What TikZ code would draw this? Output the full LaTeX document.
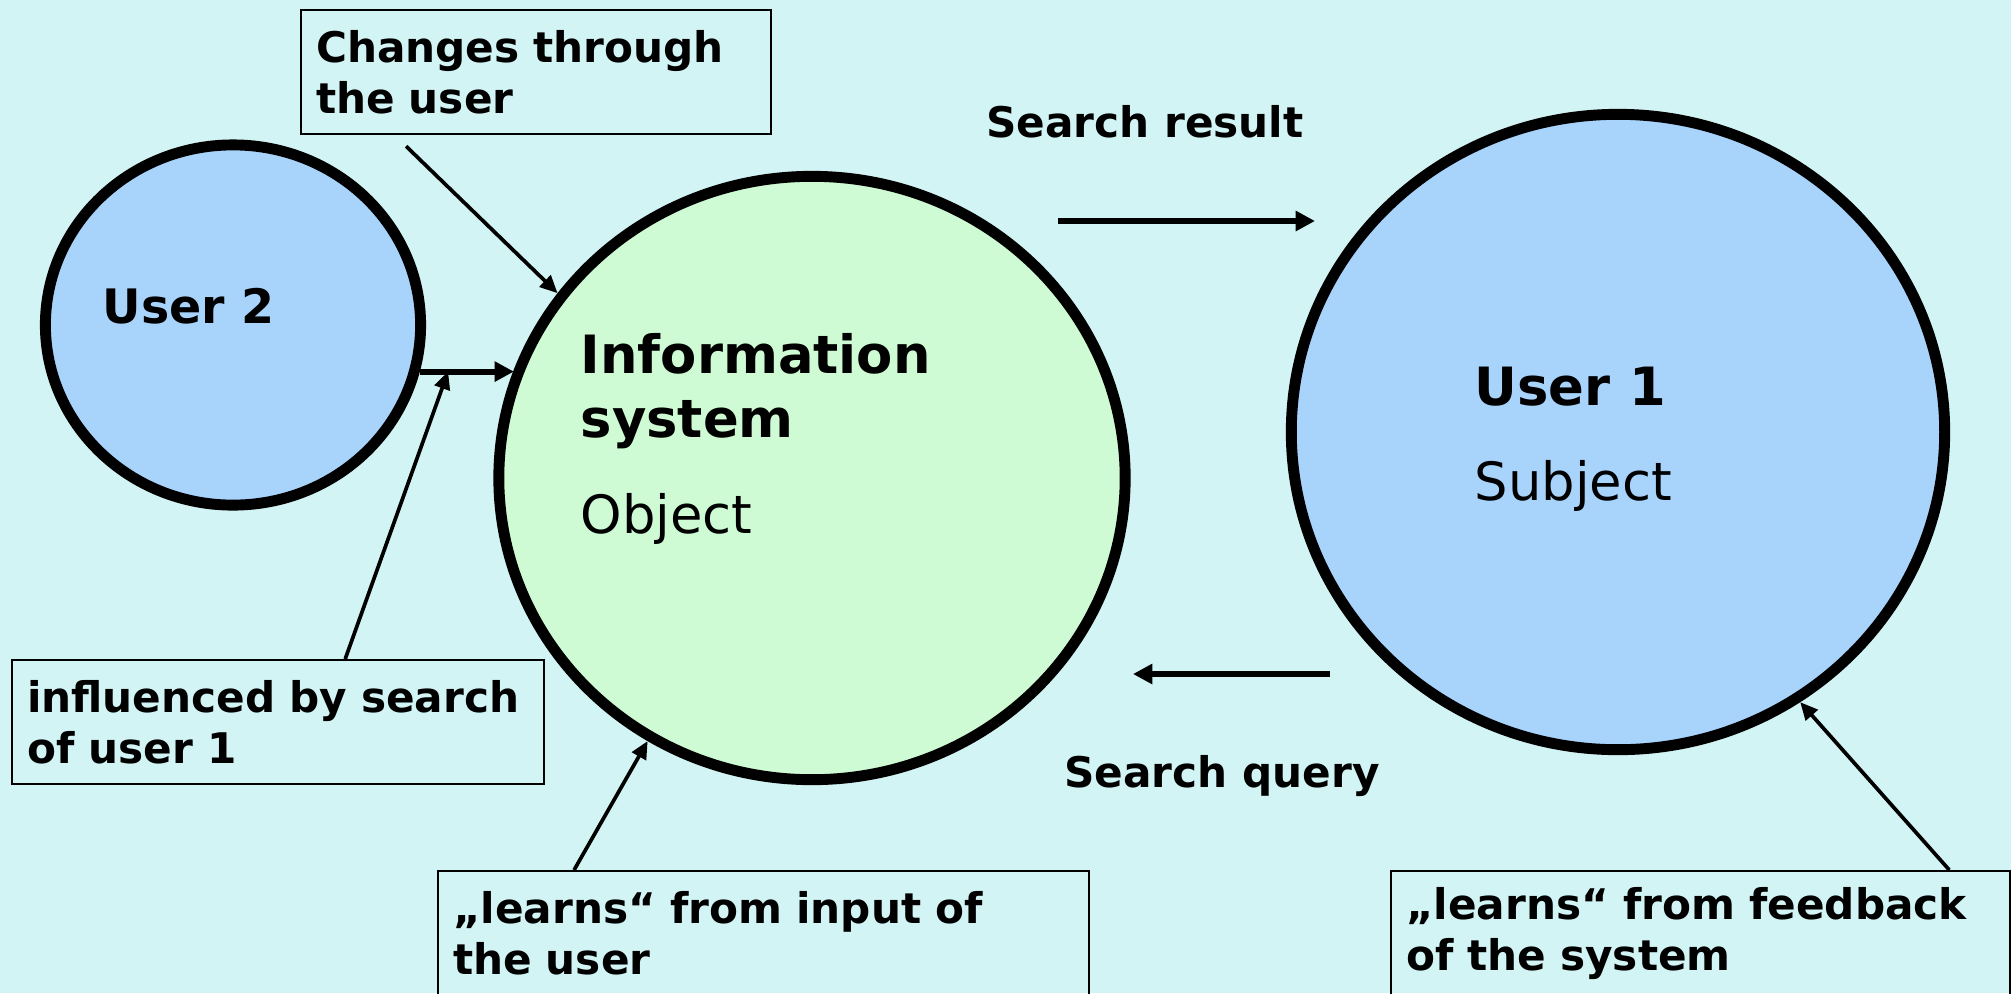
\documentclass[tikz,border=0pt]{standalone}
\usepackage{fontspec}
\setmainfont{DejaVu Sans}
\usetikzlibrary{positioning,shapes.geometric,arrows.meta}
\definecolor{bgcyan}{RGB}{210,244,244}
\definecolor{isgreen}{RGB}{206,251,212}
\definecolor{userblue}{RGB}{168,212,252}

\begin{document}
\begin{tikzpicture}[x=0.01cm, y=-0.01cm,
    blob/.style={ellipse, draw, line width=3.1pt, inner sep=0pt},
    lbl/.style={anchor=base west, inner sep=0pt},
    note/.style={draw, line width=0.6pt, anchor=north west, align=left, inner xsep=0.15cm, inner ysep=0pt,
                 minimum height=1.24cm, font=\fontsize{12}{14.5}\selectfont\bfseries},
    feed/.style={-{Triangle[length=5pt,width=4.5pt]}, line width=1.05pt},
    flow/.style={-{Triangle[length=5.5pt,width=5.5pt]}, line width=1.7pt}]
  \fill[bgcyan] (0,0) rectangle (2011,993);
  \useasboundingbox (0,0) rectangle (2011,993);

  % the three parties
  \node[blob, fill=userblue, minimum width=3.75cm, minimum height=3.60cm] (user2) at (233,325) {};
  \node[blob, fill=isgreen, minimum width=6.26cm, minimum height=6.03cm] (infosys) at (812,478) {};
  \node[blob, fill=userblue, minimum width=6.53cm, minimum height=6.35cm] (user1) at (1618,432) {};

  \node[lbl, font=\fontsize{13.5}{16}\selectfont\bfseries] (user2name) at (102,323) {User 2};
  \node[lbl, align=left, font=\fontsize{15}{18.2}\selectfont\bfseries] (isname) at (580,437) {Information\\system};
  \node[lbl, font=\fontsize{15}{18}\selectfont] (isrole) at (580,533) {Object};
  \node[lbl, font=\fontsize{15}{18}\selectfont\bfseries] (user1name) at (1474,405) {User 1};
  \node[lbl, font=\fontsize{15}{18}\selectfont] (user1role) at (1474,500) {Subject};

  % remarks
  \node[note, text width=4.40cm] (changes) at (300,9) {Changes through\\the user};
  \node[note, text width=5.02cm] (influence) at (11,659) {influenced by search\\of user 1};
  \node[note, text width=6.21cm] (learninput) at (437,870) {„learns“ from input of\\the user};
  \node[note, text width=5.89cm] (learnfeedback) at (1390,870) {„learns“ from feedback\\of the system};

  \node[anchor=base, inner sep=0pt, font=\fontsize{12}{14.5}\selectfont\bfseries] (result) at (1145,137) {Search result};
  \node[anchor=base, inner sep=0pt, font=\fontsize{12}{14.5}\selectfont\bfseries] (query) at (1222,787) {Search query};

  \coordinate (resfrom) at (1058,221);
  \coordinate (resto) at (1315,221);
  \coordinate (qryfrom) at (1330,674);
  \coordinate (qryto) at (1133,674);

  % arrows
  \draw[flow] (user2.-14) -- coordinate[pos=0.3] (hit) (user2.-14 -| infosys.160);
  \draw[flow] (resfrom) -- (resto);
  \draw[flow] (qryfrom) -- (qryto);
  \draw[feed] ([xshift=1.06cm, yshift=-0.11cm]changes.south west) -- (infosys.144);
  \draw[feed] ([xshift=3.34cm]influence.north west) -- (hit);
  \draw[feed] ([xshift=1.37cm]learninput.north west) -- (infosys.238);
  \draw[feed] ([xshift=5.59cm]learnfeedback.north west) -- (user1.304);
\end{tikzpicture}
\end{document}
